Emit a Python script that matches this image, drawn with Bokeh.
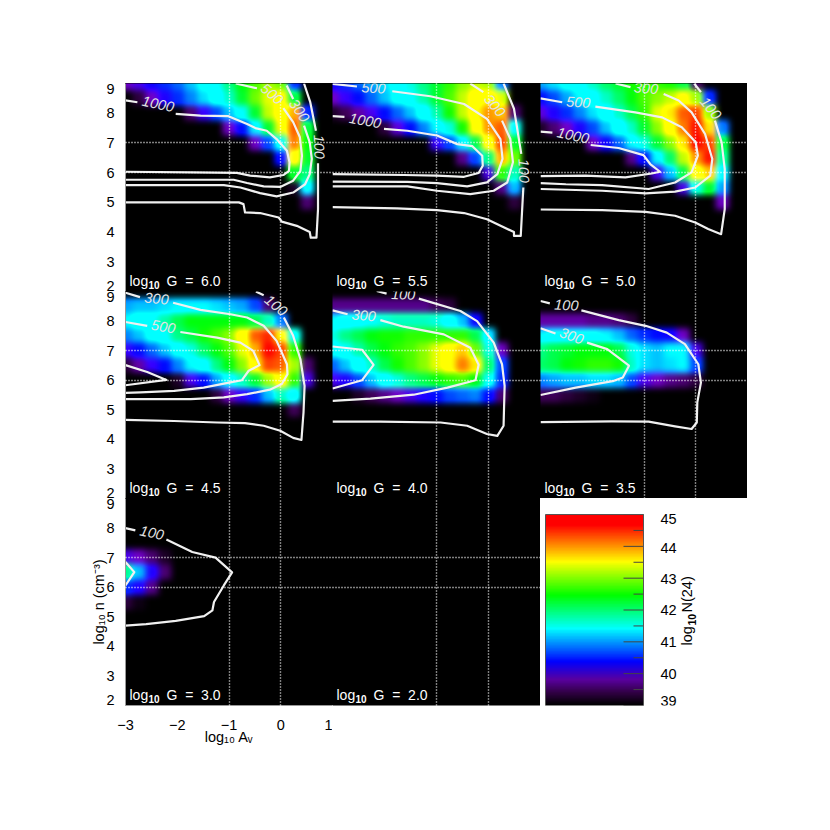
import numpy as np
from bokeh.plotting import figure
from bokeh.layouts import column, row
from bokeh.document import Document
from bokeh.models import Label, LinearColorMapper, FixedTicker, Range1d, CustomJS
from bokeh.core.properties import value
from bokeh.embed import file_html
from bokeh.resources import INLINE

# ---------- data ----------
log_av = [-3, -2.75, -2.5, -2.25, -2, -1.75, -1.5, -1.25, -1, -0.75, -0.5, -0.25, 0, 0.25, 0.5, 0.75, 1]
log_n = [9, 8.5, 8, 7.5, 7, 6.5, 6, 5.5, 5, 4.5]
Z = 38  # below the colour scale: black

N_60 = [
 [39.8,40.0,40.3,40.5,40.7,41.0,41.3,41.6,42.0,42.4,42.7,43.0,42.8,40.5,Z,Z,Z],
 [39.0,39.3,39.8,40.2,40.5,40.8,41.1,41.4,41.8,42.3,42.8,43.2,43.4,42.2,Z,Z,Z],
 [Z,Z,Z,Z,38.5,39.5,40.1,40.6,41.0,41.6,42.3,43.1,43.6,44.0,40.5,Z,Z],
 [Z,Z,Z,Z,Z,Z,Z,38.8,39.8,40.4,41.2,42.3,43.3,44.3,42.2,Z,Z],
 [Z,Z,Z,Z,Z,Z,Z,Z,Z,38.5,39.8,40.6,41.6,44.2,42.4,Z,Z],
 [Z,Z,Z,Z,Z,Z,Z,Z,Z,Z,Z,38.5,40.4,43.5,42.3,Z,Z],
 [Z,Z,Z,Z,Z,Z,Z,Z,Z,Z,Z,Z,38.8,42.3,42.0,Z,Z],
 [Z,Z,Z,Z,Z,Z,Z,Z,Z,Z,Z,Z,Z,39.2,41.3,Z,Z],
 [Z,Z,Z,Z,Z,Z,Z,Z,Z,Z,Z,Z,Z,Z,39.5,Z,Z],
 [Z]*17,
]
N_55 = [
 [40.3,40.5,40.7,40.9,41.1,41.4,41.7,42.0,42.3,42.6,42.9,43.1,43.0,40.8,Z,Z,Z],
 [39.8,40.1,40.4,40.7,41.0,41.3,41.6,41.9,42.3,42.7,43.1,43.5,43.7,43.2,38.5,Z,Z],
 [39.2,39.4,39.7,40.0,40.4,40.7,41.0,41.4,41.9,42.5,43.1,43.7,44.1,43.9,39.5,Z,Z],
 [Z,Z,Z,38.5,39.3,39.9,40.4,40.8,41.2,41.7,42.5,43.4,44.1,44.3,41.5,Z,Z],
 [Z,Z,Z,Z,Z,Z,Z,38.8,40.1,40.6,41.2,42.2,43.5,44.4,42.3,Z,Z],
 [Z,Z,Z,Z,Z,Z,Z,Z,Z,38.4,39.6,40.6,42.0,44.0,42.8,Z,Z],
 [Z,Z,Z,Z,Z,Z,Z,Z,Z,Z,Z,38.3,40.0,42.6,41.8,Z,Z],
 [Z,Z,Z,Z,Z,Z,Z,Z,Z,Z,Z,Z,Z,39.6,41.0,Z,Z],
 [Z,Z,Z,Z,Z,Z,Z,Z,Z,Z,Z,Z,Z,Z,39.3,Z,Z],
 [Z]*17,
]
N_50 = [
 [40.9,41.1,41.3,41.5,41.8,42.1,42.3,42.5,42.6,42.6,42.5,42.2,39.5,Z,Z,Z,Z],
 [40.4,40.6,40.9,41.2,41.5,41.8,42.1,42.4,42.7,42.9,43.1,43.4,43.0,40.5,Z,Z,Z],
 [39.9,40.2,40.5,40.8,41.1,41.4,41.8,42.2,42.6,43.2,43.8,44.3,44.4,43.0,38.8,Z,Z],
 [39.2,39.5,39.8,40.2,40.6,41.0,41.4,41.8,42.3,42.9,43.6,44.2,44.6,43.8,40.8,Z,Z],
 [Z,Z,Z,38.5,39.8,40.3,40.7,41.2,41.7,42.3,42.9,43.8,44.7,44.4,42.2,Z,Z],
 [Z,Z,Z,Z,Z,Z,38.3,39.6,40.4,41.2,42.1,43.1,44.1,44.6,41.9,Z,Z],
 [Z,Z,Z,Z,Z,Z,Z,Z,38.5,40.0,41.0,42.2,43.5,43.9,41.3,Z,Z],
 [Z,Z,Z,Z,Z,Z,Z,Z,Z,Z,38.3,40.0,41.6,42.3,40.9,Z,Z],
 [Z,Z,Z,Z,Z,Z,Z,Z,Z,Z,Z,Z,Z,38.8,39.8,Z,Z],
 [Z]*17,
]
N_45 = [
 [Z]*17,
 [40.9,41.0,41.0,41.1,41.2,41.2,41.2,41.1,41.0,40.9,40.6,39.5,38.3,Z,Z,Z,Z],
 [41.2,41.4,41.6,41.9,42.2,42.4,42.4,42.4,42.4,42.4,42.2,41.8,40.8,38.5,Z,Z,Z],
 [40.8,41.0,41.3,41.6,42.0,42.2,42.5,42.7,42.9,43.5,44.3,44.5,43.7,41.5,Z,Z,Z],
 [40.1,40.4,40.7,41.0,41.3,41.7,42.1,42.4,42.7,43.2,44.0,44.8,44.4,42.6,38.3,Z,Z],
 [39.3,39.7,40.1,40.4,40.8,41.2,41.5,42.0,42.4,42.9,43.7,44.4,44.3,43.0,39.5,Z,Z],
 [Z,Z,Z,38.3,39.2,40.0,40.4,40.9,41.3,41.8,42.3,43.0,43.6,42.6,40.0,Z,Z],
 [Z,Z,Z,Z,Z,Z,38.5,39.3,39.8,40.1,40.5,41.0,41.8,41.4,39.0,Z,Z],
 [Z,Z,Z,Z,Z,Z,Z,Z,Z,Z,Z,Z,39.0,39.4,Z,Z,Z],
 [Z]*17,
]
N_40 = [
 [Z]*17,
 [39.6,39.6,39.6,39.6,39.6,39.6,39.6,39.6,39.4,39.3,38.8,Z,Z,Z,Z,Z,Z],
 [41.2,41.4,41.5,41.6,41.7,41.8,41.8,41.8,41.7,41.4,41.0,40.3,38.8,Z,Z,Z,Z],
 [41.7,42.0,42.2,42.4,42.5,42.5,42.6,42.6,42.6,42.6,42.6,42.2,41.2,38.5,Z,Z,Z],
 [41.3,41.6,41.9,42.2,42.4,42.6,42.7,42.9,43.2,43.7,43.9,42.8,41.7,39.8,Z,Z,Z],
 [40.7,41.0,41.4,41.8,42.2,42.5,42.7,42.9,43.2,43.7,44.2,43.8,42.1,40.6,Z,Z,Z],
 [40.0,40.2,40.6,41.0,41.4,41.7,42.0,42.2,42.4,42.6,42.7,42.4,41.6,40.5,Z,Z,Z],
 [38.8,39.0,39.2,39.4,39.6,39.8,40.0,40.2,40.4,40.6,40.7,40.8,40.4,39.5,Z,Z,Z],
 [Z]*17,
 [Z]*17,
]
N_35 = [
 [Z]*17,
 [Z]*17,
 [39.7,39.7,39.7,39.7,39.6,39.6,39.5,39.3,38.8,38.5,Z,Z,Z,Z,Z,Z,Z],
 [41.2,41.3,41.3,41.3,41.3,41.2,41.0,40.7,40.5,40.4,40.3,39.8,38.3,Z,Z,Z,Z],
 [42.0,42.2,42.3,42.4,42.4,42.4,42.2,41.7,41.1,41.0,41.2,41.2,40.0,Z,Z,Z,Z],
 [42.1,42.2,42.4,42.5,42.6,42.6,42.5,41.8,41.1,41.0,41.1,41.2,40.6,38.5,Z,Z,Z],
 [40.8,40.9,41.0,41.0,41.1,41.1,41.0,40.6,40.0,39.8,39.6,39.5,39.3,38.2,Z,Z,Z],
 [39.4,39.4,39.3,39.2,39.1,38.8,38.5,Z,Z,Z,Z,Z,Z,Z,Z,Z,Z],
 [Z]*17,
 [Z]*17,
]
N_30 = [
 [Z]*17,
 [Z]*17,
 [Z]*17,
 [39.0,38.8,Z,Z,Z,Z,Z,Z,Z,Z,Z,Z,Z,Z,Z,Z,Z],
 [40.0,39.8,39.5,39.2,38.6,Z,Z,Z,Z,Z,Z,Z,Z,Z,Z,Z,Z],
 [42.0,41.0,40.2,39.5,Z,Z,Z,Z,Z,Z,Z,Z,Z,Z,Z,Z,Z],
 [40.5,40.2,39.6,38.5,Z,Z,Z,Z,Z,Z,Z,Z,Z,Z,Z,Z,Z],
 [39.3,39.1,38.2,Z,Z,Z,Z,Z,Z,Z,Z,Z,Z,Z,Z,Z,Z],
 [Z]*17,
 [Z]*17,
]

# contours: each level is a list of pieces of (log Av, log n) vertices
C_60 = [
 [(-3,8.43),(-2.77,8.37)],
 [(-2.03,7.98),(-1.55,7.92),(-1.01,7.90),(-.65,7.64),(-.49,7.50),(-.27,7.41),(-.08,7.13),(.12,6.74),(.17,6.35),(.16,6.06),(.05,5.92),(-.21,5.84),(-.59,5.90),(-.85,5.99),(-1.74,6.01),(-3,6.03)],
 [(-.87,9),(-.46,8.84)],
 [(.05,8.17),(.24,7.70),(.37,7.19),(.41,6.57),(.38,6.06),(.24,5.73),(-.01,5.52),(-.33,5.54),(-.65,5.65),(-.91,5.76),(-1.74,5.76),(-3,5.76)],
 [(.115,8.93),(.24,8.48)],
 [(.45,7.58),(.56,7.02),(.60,6.46),(.56,5.95),(.47,5.61),(.24,5.33),(-.08,5.20),(-.40,5.31),(-.78,5.50),(-1.10,5.58),(-3,5.58)],
 [(.45,9),(.57,8.37),(.68,7.41)],
 [(.72,6.32),(.72,4.77),(.69,3.81),(.58,3.81),(.56,4.0),(.31,4.21),(.02,4.35),(-.04,4.49),(-.40,4.64),(-.69,4.66),(-.72,4.94),(-.81,5.0),(-3,5.0)],
]
C_55 = [
 [(-3,7.90),(-2.77,7.88)],
 [(-2.01,7.47),(-1.56,7.41),(-.99,7.25),(-.60,6.96),(-.31,6.89),(-.12,6.57),(-.11,6.23),(-.19,5.99),(-.47,5.86),(-.99,5.90),(-1.63,5.92),(-3,5.95)],
 [(-3,8.99),(-2.53,8.90)],
 [(-1.85,8.74),(-1.12,8.57),(-.47,8.31),(-.03,7.81),(.23,7.13),(.27,6.46),(.17,5.95),(-.03,5.67),(-.41,5.54),(-.99,5.65),(-1.56,5.69),(-3,5.70)],
 [(-.35,9),(-.10,8.71)],
 [(.26,7.75),(.42,7.13),(.47,6.35),(.36,5.67),(.10,5.39),(-.35,5.28),(-.99,5.39),(-1.56,5.54),(-3,5.54)],
 [(.29,9),(.49,8.15),(.63,6.63)],
 [(.67,5.50),(.62,3.87),(.49,3.87),(.49,4.0),(-.03,4.43),(-.47,4.64),(-.99,4.74),(-1.76,4.80),(-3,4.84)],
]
C_50 = [
 [(-3,7.38),(-2.77,7.35)],
 [(-2.03,6.93),(-1.49,6.83),(-1.01,6.59),(-.88,6.29),(-.69,6.03),(-.85,5.97),(-1.36,5.84),(-2.13,5.90),(-3,5.88)],
 [(-3,8.5),(-2.58,8.37)],
 [(-1.94,8.22),(-1.17,8.03),(-.65,7.86),(-.27,7.53),(0,7.02),(.04,6.57),(-.08,6.01),(-.40,5.67),(-.91,5.45),(-1.81,5.58),(-2.51,5.61),(-3,5.65)],
 [(-1.55,9),(-1.26,8.88)],
 [(-.62,8.65),(-.33,8.43),(-.08,8.03),(.18,7.30),(.32,6.46),(.28,5.90),(-.01,5.50),(-.40,5.36),(-.97,5.30),(-1.81,5.39),(-3,5.45)],
 [(-.03,9),(.10,8.71)],
 [(.37,7.75),(.50,7.02),(.56,6.12),(.56,4.77),(.49,3.93),(.24,4.10),(-.01,4.32),(-.40,4.55),(-.97,4.68),(-1.81,4.74),(-3,4.76)],
]
C_45 = [
 [(-3,6.51),(-2.58,6.28),(-2.21,6.01),(-3,5.83)],
 [(-3,7.97),(-2.58,7.84)],
 [(-1.94,7.63),(-1.23,7.44),(-.78,7.27),(-.53,6.99),(-.41,6.51),(-.62,6.32),(-.75,6.0),(-1,5.92),(-1.49,5.75),(-2.06,5.64),(-2.71,5.59),(-3,5.57)],
 [(-3,8.96),(-2.72,8.81)],
 [(-2.08,8.62),(-1.55,8.38),(-.97,8.23),(-.65,8.12),(-.33,7.84),(-.08,7.33),(.12,6.54),(.13,6.2),(.02,5.87),(-.21,5.68),(-.65,5.53),(-1.10,5.42),(-1.74,5.36),(-3,5.36)],
 [(-.48,9),(-.33,8.87)],
 [(.06,8.12),(.24,7.5),(.38,6.71),(.46,5.81),(.44,4.91),(.40,3.98),(.24,4.05),(-.01,4.29),(-.33,4.46),(-.69,4.55),(-1.23,4.57),(-2.06,4.62),(-3,4.66)],
]
C_40 = [
 [(-3,7.14),(-2.43,7.03),(-2.21,6.52),(-2.43,6.0),(-3,5.72)],
 [(-3,8.36),(-2.71,8.23)],
 [(-2.08,8.03),(-1.63,7.81),(-.86,7.55),(-.35,7.10),(-.19,6.52),(-.25,6.0),(-.79,5.75),(-1.44,5.51),(-2.27,5.38),(-3,5.30)],
 [(-2.15,9.02),(-1.96,8.93)],
 [(-1.34,8.76),(-.54,8.34),(-.22,8.0),(.10,7.27),(.26,6.54),(.31,5.81),(.29,4.46),(.17,4.12),(-.03,4.18),(-.41,4.46),(-.92,4.57),(-2.08,4.60),(-3,4.60)],
]
C_35 = [
 [(-3,7.76),(-2.71,7.58)],
 [(-2.10,7.27),(-1.71,7.05),(-1.29,6.49),(-1.41,6.09),(-1.58,5.98),(-2.32,5.75),(-3,5.5)],
 [(-3,8.68),(-2.82,8.60)],
 [(-2.21,8.36),(-1.49,8.03),(-.97,7.84),(-.56,7.61),(-.21,7.22),(.05,6.54),(.10,5.92),(.03,5.25),(.02,4.57),(-.08,4.35),(-.40,4.44),(-.91,4.60),(-1.62,4.61),(-3,4.58)],
]
C_30 = [
 [(-3,6.85),(-2.83,6.51),(-3,6.06)],
 [(-3,8.0),(-2.81,7.92)],
 [(-2.21,7.61),(-1.71,7.19),(-1.26,7.0),(-.94,6.5),(-1.10,6.06),(-1.29,5.5),(-1.32,5.22),(-1.48,5.02),(-2.03,4.86),(-2.6,4.75),(-3,4.70)],
]
# contour labels: text, log Av, log n, angle in degrees
L_60 = [("1000",-2.37,8.31,-12),("500",-.17,8.65,-40),("300",.36,8.09,-55),("100",.74,6.87,-88)]
L_55 = [("1000",-2.37,7.75,-10),("500",-2.21,8.85,-3),("300",.12,8.26,-50),("100",.68,6.06,-88)]
L_50 = [("1000",-2.37,7.25,-12),("500",-2.27,8.37,-3),("300",-.96,8.84,-5),("100",.29,8.17,-50)]
L_45 = [("500",-2.27,7.81,-10),("300",-2.40,8.76,-5),("100",-.09,8.53,-40)]
L_40 = [("300",-2.40,8.19,-5),("100",-1.64,8.90,-2)]
L_35 = [("300",-2.40,7.5,-20),("100",-2.5,8.54,-3)]
L_30 = [("100",-2.49,7.84,-12)]

G_labels = ["6.0", "5.5", "5.0", "4.5", "4.0", "3.5", "3.0", "2.0"]
n_ticks = [3, 4, 5, 6, 7, 8]
av_ticks = [-3, -2, -1, 0]
cb_ticks = [39, 40, 41, 42, 43, 44, 45]
cb_minor = [39.5, 40.5, 41.5, 42.5, 43.5, 44.5]

# ---------- colour scale ----------
stop_v = [39, 39.4, 39.8, 40.36, 41.4, 42.45, 43.5, 44.65, 45]
stop_r = [0, 50, 90, 0, 0, 0, 255, 255, 255]
stop_g = [0, 0, 0, 0, 255, 255, 255, 0, 0]
stop_b = [0, 70, 160, 255, 255, 0, 0, 0, 0]
lev = np.linspace(39, 45, 256)
palette = ["#%02x%02x%02x" % (int(np.interp(v, stop_v, stop_r)), int(np.interp(v, stop_v, stop_g)), int(np.interp(v, stop_v, stop_b))) for v in lev]
mapper = LinearColorMapper(palette=palette, low=39, high=45, low_color="black", high_color="#ff0000")

FONT = "Liberation Sans"
COLS = [125, 332, 540, 747]
ROWS = [(83, 291), (291, 498), (498, 705)]


def put(p, text, px, py, fl, fb, size=14.5, color="black", align="left", angle=0, style="normal"):
    p.add_layout(Label(x=px - fl, y=fb - py, x_units="screen", y_units="screen",
                       text=text, text_color=color, text_font=FONT, text_font_size=f"{size}px",
                       text_baseline="middle", text_align=align, angle=angle, angle_units="deg",
                       text_font_style=style))


def panel(ci, ri, field, conts, labs, g):
    top, bot = ROWS[ri]
    w = COLS[ci + 1] - COLS[ci]
    h = bot - top
    left = 125 if ci == 0 else 0
    bottom = 60 if ri == 2 else 0
    t = 83 if ri == 0 else 0
    p = figure(width=w + left, height=h + t + bottom, x_range=Range1d(-3, 1), y_range=Range1d(2, 9),
               output_backend="svg", toolbar_location=None, tools="", min_border=0,
               min_border_left=left, min_border_bottom=bottom, min_border_top=t, min_border_right=0,
               background_fill_color="black", border_fill_color=None, outline_line_color=None,
               styles={"background": f"linear-gradient(black,black) {left}px {t}px / {w}px {h}px no-repeat"})
    if field is not None:
        # one extra edge row/column lies outside the frame so the softening does not darken the panel rim
        arr = np.pad(np.array(field, dtype=float)[::-1], 1, mode="edge")
        p.image(image=[arr], x=log_av[0] - 0.375, y=log_n[-1] - 0.75, dw=4.75, dh=6.0, color_mapper=mapper)
    for seg in conts:
        p.line([q[0] for q in seg], [q[1] for q in seg], line_color="#f0f0f0", line_width=2.2, line_join="round")
    for txt, a, n, ang in labs:
        p.text([a], [n], text=[txt], angle=[np.deg2rad(ang)], text_color="#e4e4e4", text_font=value(FONT),
               text_font_style="italic", text_font_size="14.5px", text_align="center", text_baseline="middle")
    p.xgrid.ticker = FixedTicker(ticks=[-1, 0])
    p.ygrid.ticker = FixedTicker(ticks=[6, 7])
    for gr in (p.xgrid, p.ygrid):
        gr.grid_line_color = "white"
        gr.grid_line_dash = "1 2"
        gr.grid_line_width = 1.4
        gr.level = "overlay"
    fl, fb = COLS[ci], bot
    if ci == 0:
        ax = p.yaxis[0]
        # the end labels 2 and 9 sit a little inside the ends of the axis, as in the reference
        ax.ticker = FixedTicker(ticks=[2.2] + n_ticks + [8.8])
        ax.major_label_overrides = {2.2: "2", 8.8: "9"}
        ax.major_label_text_font = FONT
        ax.major_label_text_font_size = "14.5px"
        ax.major_label_text_color = "black"
        ax.major_label_standoff = 5
        ax.major_tick_line_color = None
        ax.minor_tick_line_color = None
        ax.axis_line_color = "#999999"
    else:
        p.yaxis.visible = False
    if ri == 2 and ci == 0:
        ax = p.xaxis[0]
        # the tick label 1 stays just inside this figure's right edge
        ax.ticker = FixedTicker(ticks=av_ticks + [0.93])
        ax.major_label_overrides = {0.93: "1"}
        ax.major_label_text_font = FONT
        ax.major_label_text_font_size = "14.5px"
        ax.major_label_text_color = "black"
        ax.major_label_standoff = 8
        ax.major_tick_line_color = None
        ax.minor_tick_line_color = None
        ax.axis_line_color = "#999999"
        ax.axis_label = "log₁₀ Aᵥ"
        ax.axis_label_text_font = FONT
        ax.axis_label_text_font_size = "14.5px"
        ax.axis_label_text_font_style = "normal"
        ax.axis_label_text_color = "black"
        ax.axis_label_standoff = -4
        ay = p.yaxis[0]
        ay.axis_label = "log₁₀ n (cm⁻³)"
        ay.axis_label_text_font = FONT
        ay.axis_label_text_font_size = "14.5px"
        ay.axis_label_text_font_style = "normal"
        ay.axis_label_text_color = "black"
        ay.axis_label_standoff = -4
    else:
        p.xaxis.visible = False
    # panel caption
    y0 = bot - 10.5
    put(p, "log", fl + 4, y0, fl, fb, color="white", size=14)
    put(p, "10", fl + 23, y0 + 4, fl, fb, color="white", size=10, style="bold")
    put(p, "G\u00a0 =\u00a0 " + g, fl + 41, y0, fl, fb, color="white", size=14)
    return p


specs = [
    (0, 0, N_60, C_60, L_60), (1, 0, N_55, C_55, L_55), (2, 0, N_50, C_50, L_50),
    (0, 1, N_45, C_45, L_45), (1, 1, N_40, C_40, L_40), (2, 1, N_35, C_35, L_35),
    (0, 2, N_30, C_30, L_30), (1, 2, None, [], []),
]
figs = []
for (ci, ri, f, c, l), g in zip(specs, G_labels):
    figs.append(panel(ci, ri, f, c, l, g))

# colour bar: its frame fills the panel slot, the bar sits inside it
cb = figure(width=207, height=267, x_range=Range1d(540, 747), y_range=Range1d(39, 39 + 207 / 31.83),
            output_backend="svg", toolbar_location=None, tools="", min_border=0,
            min_border_bottom=60, border_fill_color=None, background_fill_color="white", outline_line_color=None)
cb.xaxis.visible = False
cb.yaxis.visible = False
cb.grid.visible = False
cb.image(image=[lev.reshape(-1, 1)], x=545, y=39, dw=98, dh=6, color_mapper=mapper)
cb.segment([643] * len(cb_ticks), cb_ticks, [623] * len(cb_ticks), cb_ticks, line_color="#444444", line_width=1)
cb.segment([643] * len(cb_minor), cb_minor, [633] * len(cb_minor), cb_minor, line_color="#444444", line_width=1)
cb.quad(left=[545], right=[643], bottom=[39], top=[45], fill_color=None, line_color="#555555", line_width=1)
lab_y = {39: 700, 40: 673, 41: 641, 42: 609, 43: 578, 44: 547, 45: 518}
for t in cb_ticks:
    put(cb, str(t), 660, lab_y[t], 540, 705)
put(cb, "log", 686, 645, 540, 705, angle=90)
put(cb, "10", 691, 625, 540, 705, size=10.5, style="bold", angle=90)
put(cb, "N(24)", 686, 612, 540, 705, angle=90)

layout = column(row(figs[0], figs[1], figs[2], spacing=0),
                row(figs[3], figs[4], figs[5], spacing=0),
                row(figs[6], figs[7], cb, spacing=0), spacing=0)

# Only the values read from the picture are drawn; the browser softens the coarse
# cells of the heat maps for display (the colour bar, width 98, is left alone).
soften = CustomJS(code="""
function walk(root){
  root.querySelectorAll('*').forEach(function(el){
    if (el.tagName.toLowerCase()==='image' && parseFloat(el.getAttribute('width'))>150){
      el.style.filter='blur(3px) brightness(1.25)';
    }
    if (el.shadowRoot) walk(el.shadowRoot);
  });
}
walk(document);
var n=0; var h=setInterval(function(){walk(document); if(++n>60) clearInterval(h);},50);
""")
doc = Document()
doc.add_root(layout)
doc.js_on_event("document_ready", soften)
open("out.html", "w").write(file_html(doc, INLINE))
